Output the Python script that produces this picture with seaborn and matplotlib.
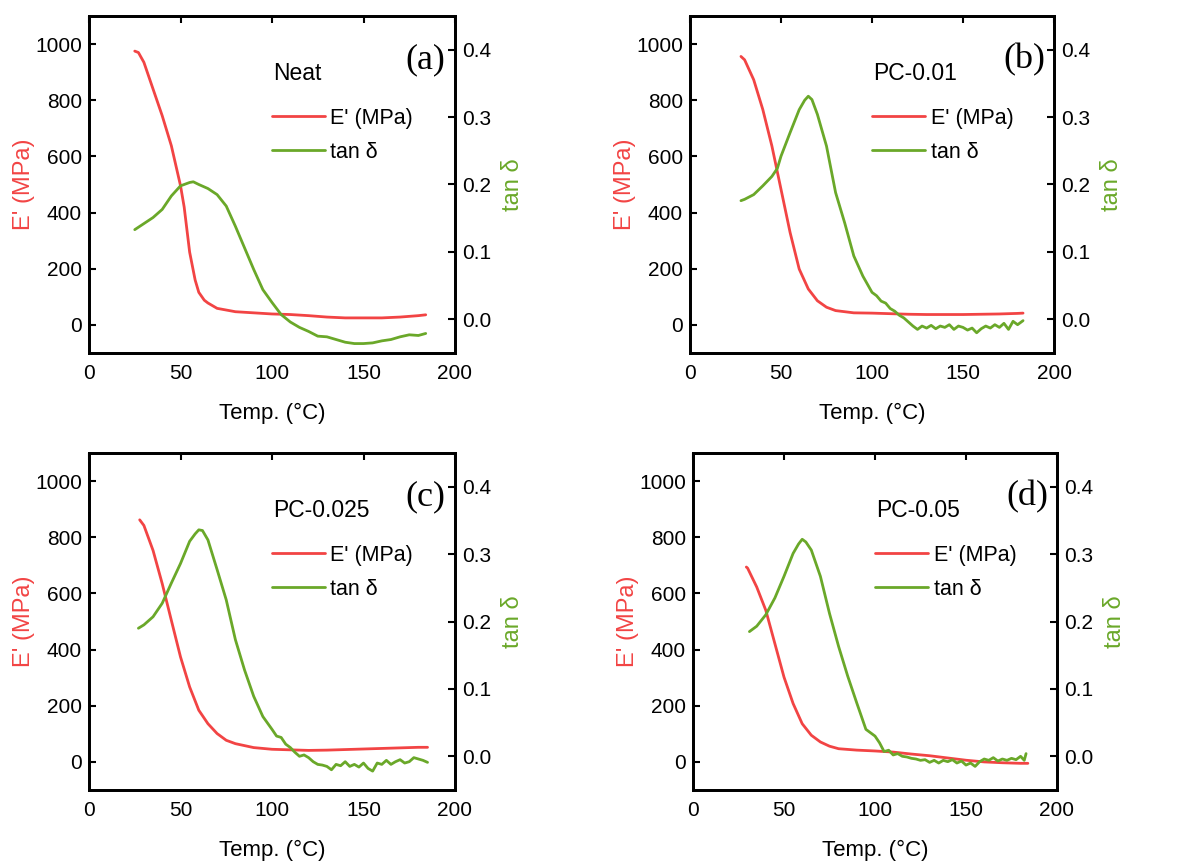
import matplotlib
matplotlib.use("Agg")
import matplotlib.pyplot as plt
import seaborn as sns

# ---- data ----
# (a) Neat
temp_a_E = [25, 27, 30, 35, 40, 45, 50, 52, 55, 58, 60, 63, 65, 70, 80, 90, 100, 110, 120, 130, 140, 150, 160, 170, 180, 184]
E_a = [975, 970, 935, 840, 745, 638, 496, 420, 259, 160, 116, 88, 78, 59, 47, 43, 39, 37, 33, 28, 25, 25, 25, 28, 33, 36]
temp_a_tan = [25, 30, 35, 40, 45, 50, 55, 57, 60, 65, 70, 75, 80, 85, 90, 95, 100, 105, 110, 115, 120, 125, 130, 135,
              140, 145, 150, 155, 160, 165, 170, 175, 180, 184]
tan_a = [0.133, 0.142, 0.151, 0.163, 0.183, 0.198, 0.203, 0.204, 0.200, 0.194, 0.185, 0.168, 0.138, 0.106, 0.074,
         0.044, 0.025, 0.007, -0.004, -0.012, -0.018, -0.025, -0.026, -0.030, -0.034, -0.036, -0.036, -0.035,
         -0.032, -0.030, -0.026, -0.023, -0.024, -0.021]

# (b) PC-0.01
temp_b_E = [28, 30, 35, 40, 45, 50, 55, 60, 65, 70, 75, 80, 90, 100, 110, 120, 130, 140, 150, 160, 170, 180, 183]
E_b = [956, 944, 873, 767, 637, 483, 329, 199, 128, 86, 63, 51, 43, 42, 40, 38, 37, 37, 37, 38, 39, 41, 42]
temp_b_tan = [28, 30, 35, 40, 45, 48, 50, 55, 60, 63, 65, 67, 70, 75, 80, 85, 90, 95, 100, 102.5, 105, 107.5, 110,
              112.5, 115, 117.5, 120, 122.5, 125, 127.5, 130, 132.5, 135, 137.5, 140, 142.5, 145, 147.5, 150,
              152.5, 155, 157.5, 160, 162.5, 165, 167.5, 170, 172.5, 175, 177.5, 180, 183]
tan_b = [0.176, 0.178, 0.185, 0.198, 0.212, 0.224, 0.242, 0.277, 0.311, 0.325, 0.331, 0.326, 0.304, 0.257, 0.188,
         0.143, 0.094, 0.064, 0.040, 0.035, 0.027, 0.024, 0.016, 0.012, 0.006, 0.002, -0.004, -0.010, -0.015,
         -0.010, -0.013, -0.009, -0.014, -0.010, -0.012, -0.008, -0.015, -0.010, -0.012, -0.016, -0.013, -0.020,
         -0.014, -0.010, -0.013, -0.008, -0.012, -0.006, -0.015, -0.003, -0.008, -0.002]

# (c) PC-0.025
temp_c_E = [27.7, 30, 35, 40, 45, 50, 55, 60, 65, 70, 75, 80, 90, 100, 110, 120, 130, 140, 150, 160, 170, 180, 185]
E_c = [862, 842, 753, 635, 504, 374, 267, 184, 136, 101, 77, 65, 51, 45, 43, 41, 42, 44, 46, 48, 50, 52, 52]
temp_c_tan = [27, 30, 35, 40, 45, 50, 55, 58, 60, 62, 65, 70, 75, 80, 85, 90, 95, 100, 102.5, 105, 107.5, 110,
              112.5, 115, 117.5, 120, 122.5, 125, 127.5, 130, 132.5, 135, 137.5, 140, 142.5, 145, 147.5, 150,
              152.5, 155, 157.5, 160, 162.5, 165, 167.5, 170, 172.5, 175, 177.5, 180, 182.5, 185]
tan_c = [0.190, 0.195, 0.207, 0.227, 0.257, 0.286, 0.319, 0.330, 0.336, 0.335, 0.321, 0.277, 0.232, 0.173, 0.128,
         0.089, 0.059, 0.040, 0.030, 0.028, 0.018, 0.013, 0.006, 0.000, 0.002, -0.002, -0.008, -0.012, -0.013,
         -0.015, -0.020, -0.012, -0.014, -0.008, -0.015, -0.012, -0.016, -0.010, -0.018, -0.022, -0.010, -0.012,
         -0.006, -0.012, -0.008, -0.005, -0.010, -0.008, -0.002, -0.004, -0.006, -0.009]

# (d) PC-0.05
temp_d_E = [29.3, 30, 35, 40, 45, 50, 55, 60, 65, 70, 75, 80, 90, 100, 110, 120, 130, 140, 150, 160, 170, 180, 184]
E_d = [694, 690, 623, 540, 421, 302, 208, 136, 95, 71, 56, 47, 42, 39, 35, 28, 22, 14, 6, 0, -3, -5, -5]
temp_d_tan = [31, 35, 40, 45, 50, 55, 58, 60, 62, 65, 70, 75, 80, 85, 90, 95, 100, 102.5, 105, 107.5, 110, 112.5,
              115, 117.5, 120, 122.5, 125, 127.5, 130, 132.5, 135, 137.5, 140, 142.5, 145, 147.5, 150, 152.5, 155,
              157.5, 160, 162.5, 165, 167.5, 170, 172.5, 175, 177.5, 180, 182, 183]
tan_d = [0.185, 0.193, 0.210, 0.235, 0.267, 0.301, 0.315, 0.322, 0.318, 0.306, 0.267, 0.212, 0.163, 0.119, 0.079,
         0.040, 0.030, 0.020, 0.007, 0.009, 0.002, 0.004, 0.000, -0.001, -0.003, -0.004, -0.006, -0.005, -0.009,
         -0.006, -0.010, -0.006, -0.008, -0.005, -0.010, -0.007, -0.013, -0.010, -0.015, -0.008, -0.004, -0.006,
         -0.002, -0.007, -0.004, -0.006, -0.003, -0.005, 0.000, -0.006, 0.004]

names = ["Neat", "PC-0.01", "PC-0.025", "PC-0.05"]
tags = ["(a)", "(b)", "(c)", "(d)"]

RED = "#f24444"
GREEN = "#6aa829"

sns.set_style("ticks")
plt.rcParams["font.family"] = ["Liberation Sans", "DejaVu Sans"]
plt.rcParams["text.color"] = "black"
plt.rcParams["xtick.color"] = "black"
plt.rcParams["ytick.color"] = "black"

fig = plt.figure(figsize=(12.04, 8.63), dpi=100)

# axes boxes in pixels: left, top, right, bottom
boxes = [(89, 16, 455, 353), (690, 16, 1054, 353), (89, 453, 455, 790), (693, 453, 1057, 790)]
panels = [(temp_a_E, E_a, temp_a_tan, tan_a), (temp_b_E, E_b, temp_b_tan, tan_b),
          (temp_c_E, E_c, temp_c_tan, tan_c), (temp_d_E, E_d, temp_d_tan, tan_d)]

W, H = 1204, 863
for (l, t, r, b), (tE, E, tT, T), name, tag in zip(boxes, panels, names, tags):
    ax = fig.add_axes([l / W, (H - b) / H, (r - l) / W, (b - t) / H])
    ax2 = ax.twinx()
    sns.lineplot(x=tE, y=E, ax=ax, color=RED, lw=2, label="E' (MPa)")
    sns.lineplot(x=tT, y=T, ax=ax2, color=GREEN, lw=2, label="tan \u03b4")

    ax.set_xlim(0, 200)
    ax.set_ylim(-100, 1100)
    ax2.set_ylim(-0.05, 0.45)
    ax.set_xticks([0, 50, 100, 150, 200])
    ax.set_yticks([0, 200, 400, 600, 800, 1000])
    ax2.set_yticks([0.0, 0.1, 0.2, 0.3, 0.4])
    ax2.set_yticklabels(["0.0", "0.1", "0.2", "0.3", "0.4"])

    ax.set_xlabel("Temp. (\u00b0C)", fontsize=16, labelpad=14, color="black")
    ax.set_ylabel("E' (MPa)", fontsize=17, color=RED, labelpad=0)
    ax2.set_ylabel("tan \u03b4", fontsize=17, color=GREEN, labelpad=8)

    ax.tick_params(axis="x", direction="in", top=True, bottom=False, length=5, width=1.5,
                   labelsize=15, pad=8)
    ax.tick_params(axis="y", direction="in", length=5, width=1.5, labelsize=15, pad=5)
    ax2.tick_params(axis="y", direction="in", length=5, width=1.5, labelsize=15, pad=5)
    for sp in list(ax.spines.values()) + list(ax2.spines.values()):
        sp.set_linewidth(2)
        sp.set_color("black")

    # legend combining both axes
    h1, l1 = ax.get_legend_handles_labels()
    h2, l2 = ax2.get_legend_handles_labels()
    ax2.get_legend().remove()
    ax.get_legend().remove()
    ax2.legend(h1 + h2, l1 + l2, loc="upper left", bbox_to_anchor=(0.448, 0.785), frameon=False,
               fontsize=15.5, handlelength=2.45, handletextpad=0.25, labelspacing=0.6)

    ax.text(0.503, 0.83, name, transform=ax.transAxes, fontsize=16.5, va="center", ha="left")
    ax.text(0.918, 0.87, tag, transform=ax.transAxes, fontsize=26, va="center", ha="center",
            family=["Liberation Serif", "DejaVu Serif"])

fig.savefig("out.png", dpi=100)
